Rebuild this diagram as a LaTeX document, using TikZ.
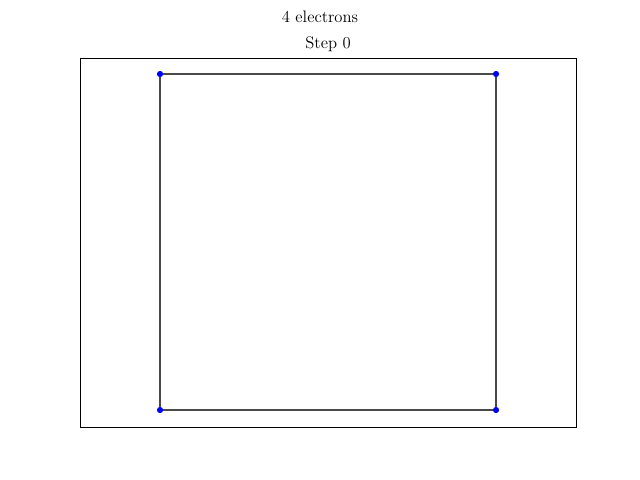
\documentclass[tikz,border=0pt]{standalone}
\usepackage{xcolor}
\usepackage{tikz}
\usetikzlibrary{arrows.meta,positioning}
\definecolor{edgegray}{HTML}{4A4A4A}

\begin{document}
\begin{tikzpicture}[
  x=0.72pt, y=-0.72pt,
  frame/.style={draw=black,line width=0.6pt},
  electron/.style={circle,fill=blue,inner sep=0pt,minimum size=4.2pt},
  bond/.style={draw=edgegray,line width=1.1pt},
  heading/.style={font=\fontsize{12}{14}\selectfont,inner sep=0pt}
]
  \useasboundingbox (0,0) rectangle (640,480);
  \draw[frame] (80,58) rectangle (576,427);

  \node[heading, anchor=base] (sup) at (320,22) {4 electrons};
  \node[heading, anchor=base] (ttl) at (328,48) {Step 0};

  \node[electron] (e1) at (160,74) {};
  \node[electron] (e2) at (496,74) {};
  \node[electron] (e3) at (496,410) {};
  \node[electron] (e4) at (160,410) {};

  \draw[bond] (e1.center) -- (e2.center);
  \draw[bond] (e2.center) -- (e3.center);
  \draw[bond] (e3.center) -- (e4.center);
  \draw[bond] (e4.center) -- (e1.center);

  \foreach \n in {e1,e2,e3,e4}
    \node[electron] at (\n) {};
\end{tikzpicture}
\end{document}
